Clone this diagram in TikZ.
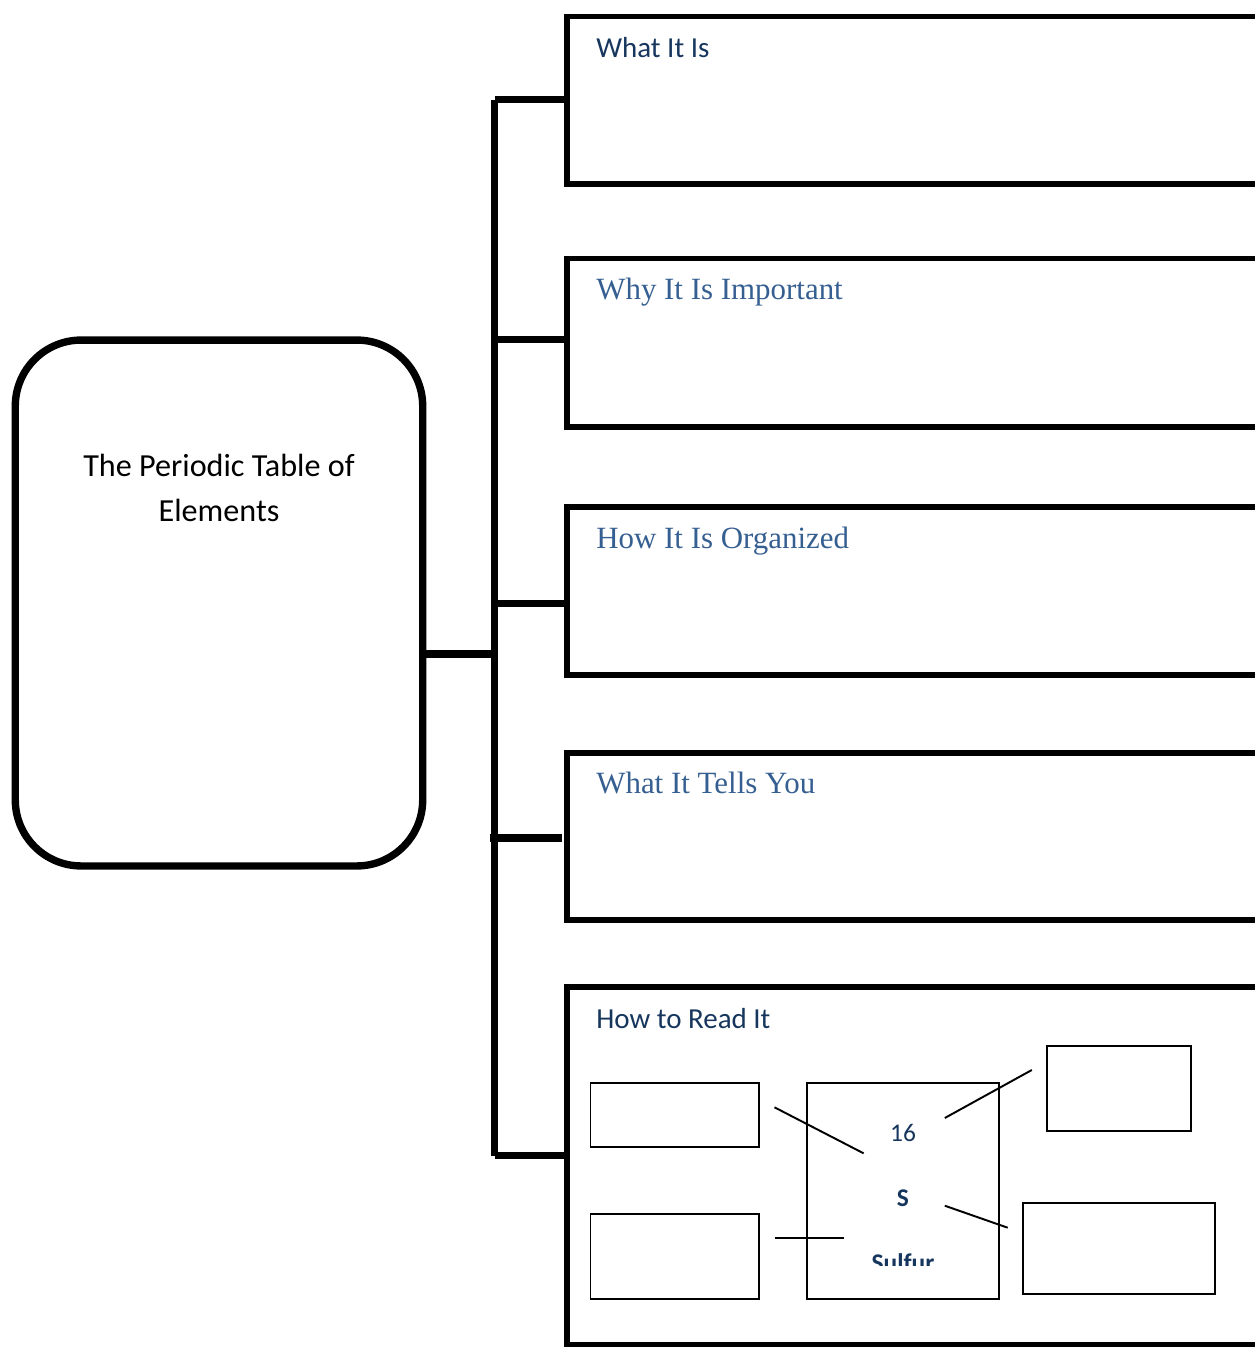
\documentclass[tikz,border=0pt]{standalone}
\usepackage{fontspec}
\setmainfont{Carlito}
\newfontfamily\headserif{Liberation Serif}
\usepackage{xcolor}
\usetikzlibrary{positioning}
\definecolor{headblue}{RGB}{23,54,93}
\definecolor{serifblue}{RGB}{54,95,145}

\begin{document}
\begin{tikzpicture}[
  x=0.02cm, y=-0.02cm,
  topic/.style={draw, line width=4.2pt, rounded corners=1.32cm, minimum width=8.15cm, minimum height=10.52cm, outer sep=0pt},
  panel/.style={draw, line width=3.4pt, anchor=north west, minimum width=14.8cm, inner sep=0pt, outer sep=0pt},
  branch/.style={line width=4.2pt},
  head/.style={anchor=base west, inner sep=0pt, text=headblue, font=\fontsize{16.5}{20}\selectfont},
  serifhead/.style={anchor=base west, inner sep=0pt, text=serifblue, font=\headserif\fontsize{17.6}{20}\selectfont},
  cell/.style={draw, line width=1.1pt, anchor=north west, inner sep=0pt, outer sep=0pt},
  pointer/.style={line width=1.1pt},
  symbol/.style={anchor=base, inner sep=0pt, text=headblue, font=\fontsize{14.5}{16}\selectfont}
]
\clip (0,0) rectangle (1255,1347);

% Central topic
\node[topic] (topic) at (219,603) {};
\node[align=center, font=\fontsize{18.3}{25.2}\selectfont] (ptitle) at (219,488) {The Periodic Table of\\Elements};

% Panels
\node[panel, minimum height=3.36cm] (p1) at (567,16.5) {};
\node[panel, minimum height=3.37cm] (p2) at (567,258.5) {};
\node[panel, minimum height=3.354cm] (p3) at (567,507.3) {};
\node[panel, minimum height=3.35cm] (p4) at (567,752.8) {};
\node[panel, minimum height=7.155cm] (p5) at (567,987.3) {};

% Panel titles
\node[head] (t1) at ([shift={(29,41)}]p1.north west) {What It Is};
\node[serifhead] (t2) at ([shift={(29,41)}]p2.north west) {Why It Is Important};
\node[serifhead] (t3) at ([shift={(29,41)}]p3.north west) {How It Is Organized};
\node[serifhead] (t4) at ([shift={(29,41)}]p4.north west) {What It Tells You};
\node[head] (t5) at ([shift={(29,41)}]p5.north west) {How to Read It};

% Spine and branches
\coordinate (k1) at (494.5,99.5);
\coordinate (k2) at (494.5,339.5);
\coordinate (k3) at (494.5,603.3);
\coordinate (k4) at (494.5,838);
\coordinate (k5) at (494.5,1155.5);
\coordinate (hub) at (494.5,654);
\draw[branch] (k1) -- (k5);
\foreach \k/\p in {k1/p1,k2/p2,k3/p3,k5/p5}
  \draw[branch] (\k) -- (\k -| \p.west);
\draw[branch] ([xshift=-1mm]k4) -- ([xshift=-1mm]k4 -| p4.west);
\draw[branch] (topic.east |- hub) -- (hub);

% Element key
\node[cell, minimum width=3.374cm, minimum height=1.28cm] (boxA) at (590.5,1083.3) {};
\node[cell, minimum width=3.374cm, minimum height=1.706cm] (boxB) at (590.5,1214) {};
\node[cell, minimum width=3.844cm, minimum height=4.32cm] (elem) at (806.8,1083.3) {};
\node[cell, minimum width=2.892cm, minimum height=1.712cm] (boxC) at (1046.6,1045.7) {};
\node[cell, minimum width=3.854cm, minimum height=1.826cm] (boxD) at (1022.6,1203) {};

\node[symbol] (num) at (903,1141.7) {16};
\node[symbol, font=\bfseries\fontsize{14.5}{16}\selectfont] (sym) at (903,1206) {S};
\begin{scope}
  \clip (810,1240) rectangle (996,1265.5);
  \node[symbol, font=\bfseries\fontsize{14.5}{16}\selectfont] (name) at (903,1271) {Sulfur};
\end{scope}

% Pointers
\coordinate (a1) at (774.5,1107.3);
\coordinate (a2) at (863.6,1153.3);
\coordinate (b1) at (774.5,1238);
\coordinate (b2) at (844.4,1238);
\coordinate (c1) at (944.8,1118);
\coordinate (c2) at (1031.8,1070);
\coordinate (d1) at (944.8,1205.7);
\coordinate (d2) at (1007.7,1227.7);
\draw[pointer] (a1) -- (a2);
\draw[pointer] (b1) -- (b2);
\draw[pointer] (c1) -- (c2);
\draw[pointer] (d1) -- (d2);
\end{tikzpicture}
\end{document}
